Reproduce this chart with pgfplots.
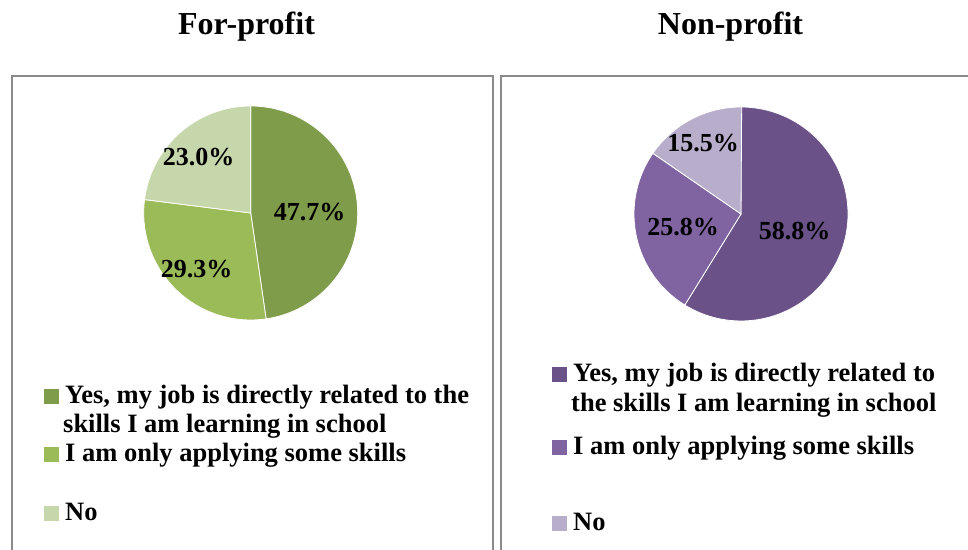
\documentclass[border=0pt]{standalone}
\usepackage{pgfplots}
\pgfplotsset{compat=1.18}
\usepackage{fontspec}
\setmainfont{Liberation Serif}
\definecolor{gA}{HTML}{7F9C4B}
\definecolor{gB}{HTML}{9BBB59}
\definecolor{gC}{HTML}{C6D7AC}
\definecolor{pA}{HTML}{6A5187}
\definecolor{pB}{HTML}{8064A2}
\definecolor{pC}{HTML}{B8ADCB}
\definecolor{frame}{HTML}{8A8A8A}
\newcommand\legfont{\fontsize{26.5bp}{30bp}\selectfont\bfseries}
\newcommand\labfont{\fontsize{26bp}{30bp}\selectfont\bfseries}
\newcommand\titfont{\fontsize{32bp}{36bp}\selectfont\bfseries}
% data (percent)
\def\fpA{47.7}\def\fpB{29.3}\def\fpC{23.0}
\def\npA{58.8}\def\npB{25.8}\def\npC{15.5}
\pgfplotsset{pie/.style={x=107bp,y=107bp,hide axis,xmin=-1,xmax=1,ymin=-1,ymax=1,clip=false,anchor=south west}}
\newcommand\slice[3]{\addplot[fill=#1,draw=white,line width=0.8bp,domain=#2:#3,samples=90,variable=\t] ({cos(\t)},{sin(\t)}) -- (axis cs:0,0) -- cycle;}
\newcommand\legsq[3]{\fill[#1] (#2,#3) rectangle ++(15,15);}
\begin{document}
\begin{tikzpicture}[x=1bp,y=1bp]
\useasboundingbox (0,0) rectangle (968,550);
\fill[white] (0,0) rectangle (968,550);
% frames
\draw[frame,line width=2bp] (11.5,-10) -- (11.5,474) -- (492.5,474) -- (492.5,-10);
\draw[frame,line width=2bp] (500.5,-10) -- (500.5,474) -- (980,474);
% titles
\node[anchor=base,inner sep=0,font=\titfont] at (246.5,515) {For-profit};
\node[anchor=base,inner sep=0,font=\titfont] at (730.5,515) {Non-profit};
% angles
\pgfmathsetmacro\fa{90-3.6*\fpA}
\pgfmathsetmacro\fb{\fa-3.6*\fpB}
\pgfmathsetmacro\fc{\fb-3.6*\fpC}
\pgfmathsetmacro\na{90-3.6*\npA}
\pgfmathsetmacro\nb{\na-3.6*\npB}
\pgfmathsetmacro\nc{\nb-3.6*\npC}
\begin{axis}[pie,at={(143.7bp,230bp)}]
\slice{gA}{\fa}{90}
\slice{gB}{\fb}{\fa}
\slice{gC}{\fc}{\fb}
\node[font=\labfont,inner sep=0] at (axis cs:0.55,0.01) {47.7\%};
\node[font=\labfont,inner sep=0] at (axis cs:-0.505,-0.523) {29.3\%};
\node[font=\labfont,inner sep=0] at (axis cs:-0.486,0.523) {23.0\%};
\end{axis}
\begin{axis}[pie,at={(634bp,229bp)}]
\slice{pA}{\na}{90}
\slice{pB}{\nb}{\na}
\slice{pC}{\nc}{\nb}
\node[font=\labfont,inner sep=0] at (axis cs:0.5,-0.156) {58.8\%};
\node[font=\labfont,inner sep=0] at (axis cs:-0.542,-0.119) {25.8\%};
\node[font=\labfont,inner sep=0] at (axis cs:-0.355,0.666) {15.5\%};
\end{axis}
% left legend
\legsq{gA}{44}{146}
\node[anchor=base west,inner sep=0,font=\legfont] at (65,146) {Yes, my job is directly related to the};
\node[anchor=base west,inner sep=0,font=\legfont] at (63,117) {skills I am learning in school};
\legsq{gB}{44}{88}
\node[anchor=base west,inner sep=0,font=\legfont] at (65,88) {I am only applying some skills};
\legsq{gC}{44}{29}
\node[anchor=base west,inner sep=0,font=\legfont] at (65,29) {No};
% right legend
\legsq{pA}{552}{168}
\node[anchor=base west,inner sep=0,font=\legfont] at (573,168) {Yes, my job is directly related to};
\node[anchor=base west,inner sep=0,font=\legfont] at (571,138) {the skills I am learning in school};
\legsq{pB}{552}{95}
\node[anchor=base west,inner sep=0,font=\legfont] at (573,95) {I am only applying some skills};
\legsq{pC}{552}{19}
\node[anchor=base west,inner sep=0,font=\legfont] at (573,19) {No};
\end{tikzpicture}
\end{document}
